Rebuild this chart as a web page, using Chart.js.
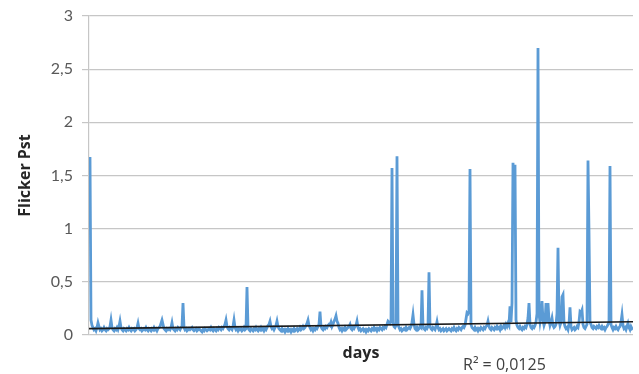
<!DOCTYPE html>
<html>
<head>
<meta charset="utf-8">
<script src="https://cdn.jsdelivr.net/npm/chart.js@4/dist/chart.umd.min.js"></script>
<style>
  html, body { margin: 0; padding: 0; background: #ffffff; }
  #wrap { width: 639px; height: 374px; position: relative; }
</style>
</head>
<body>
<div id="wrap"><canvas id="c" width="639" height="374"></canvas></div>
<script>
// ---- data ----
const pst = [
  1.66, 1.66, 0.14, 0.09, 0.07, 0.05, 0.06, 0.04, 0.07, 0.115, 0.08, 0.05, 0.06, 0.04, 0.05, 0.07, 0.05, 0.04, 0.06, 0.05,
  0.06, 0.08, 0.14, 0.07, 0.05, 0.04, 0.06, 0.05, 0.07, 0.05, 0.08, 0.13, 0.07, 0.05, 0.04, 0.06, 0.05, 0.04, 0.06, 0.05,
  0.07, 0.05, 0.04, 0.06, 0.05, 0.06, 0.04, 0.05, 0.07, 0.11, 0.06, 0.05, 0.06, 0.04, 0.05, 0.06, 0.05, 0.07, 0.05, 0.04,
  0.06, 0.05, 0.04, 0.06, 0.05, 0.07, 0.05, 0.06, 0.04, 0.06, 0.07, 0.08, 0.11, 0.14, 0.10, 0.06, 0.05, 0.04, 0.06, 0.05,
  0.06, 0.05, 0.07, 0.115, 0.06, 0.05, 0.04, 0.06, 0.05, 0.07, 0.06, 0.05, 0.07, 0.08, 0.30, 0.07, 0.05, 0.06, 0.04, 0.05,
  0.06, 0.05, 0.06, 0.07, 0.05, 0.04, 0.05, 0.06, 0.04, 0.05, 0.06, 0.05, 0.04, 0.03, 0.05, 0.04, 0.06, 0.05, 0.04, 0.05,
  0.06, 0.05, 0.07, 0.05, 0.04, 0.06, 0.05, 0.04, 0.06, 0.05, 0.07, 0.06, 0.05, 0.07, 0.06, 0.08, 0.10, 0.14, 0.08, 0.06,
  0.05, 0.07, 0.06, 0.05, 0.08, 0.14, 0.07, 0.05, 0.06, 0.04, 0.06, 0.05, 0.06, 0.04, 0.05, 0.07, 0.05, 0.06, 0.45, 0.07,
  0.05, 0.04, 0.06, 0.05, 0.04, 0.06, 0.05, 0.07, 0.05, 0.04, 0.06, 0.05, 0.07, 0.05, 0.06, 0.04, 0.06, 0.05, 0.07, 0.09,
  0.10, 0.13, 0.08, 0.06, 0.07, 0.05, 0.07, 0.09, 0.13, 0.08, 0.06, 0.05, 0.04, 0.06, 0.04, 0.05, 0.03, 0.05, 0.04, 0.06,
  0.04, 0.05, 0.03, 0.05, 0.04, 0.06, 0.04, 0.05, 0.06, 0.04, 0.05, 0.07, 0.05, 0.06, 0.08, 0.06, 0.07, 0.09, 0.11, 0.14,
  0.09, 0.07, 0.05, 0.06, 0.04, 0.06, 0.05, 0.07, 0.06, 0.08, 0.10, 0.22, 0.08, 0.06, 0.05, 0.07, 0.06, 0.08, 0.07, 0.09,
  0.10, 0.09, 0.12, 0.08, 0.10, 0.13, 0.15, 0.18, 0.13, 0.11, 0.07, 0.05, 0.06, 0.04, 0.06, 0.05, 0.07, 0.05, 0.06, 0.07,
  0.08, 0.10, 0.06, 0.05, 0.07, 0.06, 0.08, 0.09, 0.13, 0.07, 0.05, 0.06, 0.04, 0.05, 0.06, 0.04, 0.05, 0.03, 0.05, 0.04,
  0.06, 0.05, 0.04, 0.06, 0.05, 0.07, 0.05, 0.06, 0.04, 0.06, 0.05, 0.07, 0.06, 0.05, 0.07, 0.06, 0.08, 0.07, 0.10, 0.13,
  0.12, 0.11, 0.13, 1.57, 0.12, 0.08, 0.07, 0.09, 1.68, 0.10, 0.07, 0.05, 0.06, 0.04, 0.05, 0.06, 0.05, 0.07, 0.05, 0.06,
  0.07, 0.06, 0.08, 0.12, 0.19, 0.10, 0.06, 0.05, 0.07, 0.05, 0.06, 0.08, 0.07, 0.42, 0.08, 0.06, 0.05, 0.07, 0.06, 0.08,
  0.59, 0.08, 0.06, 0.05, 0.07, 0.06, 0.05, 0.08, 0.125, 0.07, 0.05, 0.06, 0.04, 0.05, 0.06, 0.04, 0.05, 0.06, 0.04, 0.05,
  0.06, 0.05, 0.04, 0.06, 0.05, 0.07, 0.05, 0.04, 0.06, 0.05, 0.07, 0.06, 0.05, 0.07, 0.08, 0.07, 0.09, 0.15, 0.21, 0.20,
  0.22, 1.56, 0.10, 0.07, 0.06, 0.05, 0.07, 0.05, 0.06, 0.04, 0.06, 0.05, 0.07, 0.06, 0.05, 0.07, 0.06, 0.08, 0.09, 0.13,
  0.08, 0.06, 0.05, 0.07, 0.06, 0.05, 0.07, 0.06, 0.08, 0.06, 0.07, 0.05, 0.08, 0.06, 0.07, 0.09, 0.07, 0.10, 0.08, 0.11,
  0.09, 0.27, 0.12, 0.30, 1.62, 1.40, 1.60, 0.14, 0.09, 0.07, 0.06, 0.08, 0.06, 0.05, 0.07, 0.06, 0.08, 0.07, 0.10, 0.16,
  0.30, 0.10, 0.07, 0.06, 0.08, 0.07, 0.09, 0.12, 0.20, 2.70, 0.20, 0.12, 0.18, 0.32, 0.14, 0.09, 0.12, 0.30, 0.12, 0.30,
  0.14, 0.09, 0.12, 0.16, 0.09, 0.07, 0.08, 0.10, 0.20, 0.82, 0.14, 0.09, 0.12, 0.36, 0.38, 0.12, 0.08, 0.06, 0.07, 0.05,
  0.10, 0.26, 0.08, 0.05, 0.06, 0.07, 0.05, 0.06, 0.08, 0.07, 0.12, 0.22, 0.21, 0.235, 0.10, 0.07, 0.06, 0.08, 0.10, 1.64,
  0.96, 0.12, 0.10, 0.07, 0.06, 0.08, 0.07, 0.06, 0.08, 0.07, 0.09, 0.07, 0.06, 0.08, 0.06, 0.07, 0.05, 0.07, 0.08, 0.10,
  0.12, 1.59, 0.10, 0.07, 0.05, 0.07, 0.06, 0.08, 0.06, 0.05, 0.07, 0.08, 0.12, 0.19, 0.09, 0.06, 0.07, 0.05, 0.08, 0.11,
  0.07, 0.05, 0.08, 0.06, 0.07
];
const days = pst.map((_, i) => i);          // day index (category positions)
const trendDays = [0, 544];                  // linear trendline end points
const trendValues = [0.06, 0.125];
const yTicks = [0, 0.5, 1, 1.5, 2, 2.5, 3];
const yTickLabels = ['0', '0,5', '1', '1,5', '2', '2,5', '3'];
const xTitle = 'days';
const yTitle = 'Flicker Pst';
const r2Label = 'R\u00B2 = 0,0125';

// ---- chart ----
const TICK_FONT = 'Lato, "Open Sans", "Liberation Sans", sans-serif';
const TITLE_FONT = '"Open Sans", Lato, "Liberation Sans", sans-serif';

const r2Plugin = {
  id: 'r2',
  afterDraw(chart) {
    const ctx = chart.ctx;
    ctx.save();
    ctx.font = '16px ' + TITLE_FONT;
    ctx.fillStyle = '#404040';
    ctx.textAlign = 'left';
    ctx.textBaseline = 'alphabetic';
    ctx.fillText(r2Label, 463, 370);
    ctx.restore();
  }
};

new Chart(document.getElementById('c'), {
  type: 'line',
  data: {
    datasets: [
      {
        label: 'Pst',
        data: pst.map((v, i) => ({ x: days[i], y: v })),
        borderColor: '#5B9BD5',
        borderWidth: 2.8,
        pointRadius: 0,
        tension: 0,
        fill: false,
        order: 2
      },
      {
        label: 'Trend',
        data: trendDays.map((d, i) => ({ x: d, y: trendValues[i] })),
        borderColor: '#1a1a1a',
        borderWidth: 1.6,
        pointRadius: 0,
        tension: 0,
        fill: false,
        order: 1
      }
    ]
  },
  options: {
    responsive: false,
    animation: false,
    events: [],
    layout: { padding: { left: 0, right: 6, top: 16, bottom: 11 } },
    plugins: { legend: { display: false }, tooltip: { enabled: false } },
    scales: {
      x: {
        type: 'linear',
        min: days[0],
        max: days[days.length - 1],
        grid: { display: false },
        border: { display: false },
        ticks: { display: false },
        title: {
          display: true,
          text: xTitle,
          color: '#262626',
          font: { family: TITLE_FONT, size: 16, weight: 'bold' },
          padding: { top: 0, bottom: 0 }
        },
        afterFit(s) { s.height = 28; s.paddingLeft = 0; s.paddingRight = 0; }
      },
      y: {
        type: 'linear',
        min: 0,
        max: 3,
        afterBuildTicks(s) { s.ticks = yTicks.map(v => ({ value: v })); },
        ticks: {
          color: '#595959',
          font: { family: TICK_FONT, size: 16 },
          padding: 9,
          callback: (v) => yTickLabels[yTicks.indexOf(v)]
        },
        grid: { color: '#c6c6c6', lineWidth: 1.2, tickLength: 7, drawTicks: true },
        border: { display: true, color: '#c6c6c6', width: 1.2 },
        title: {
          display: true,
          text: yTitle,
          color: '#262626',
          font: { family: TITLE_FONT, size: 16, weight: 'bold' },
          padding: { top: 16, bottom: 0 }
        },
        afterFit(s) { s.width = 89; s.paddingTop = 0; s.paddingBottom = 0; }
      }
    }
  },
  plugins: [r2Plugin]
});
</script>
</body>
</html>
